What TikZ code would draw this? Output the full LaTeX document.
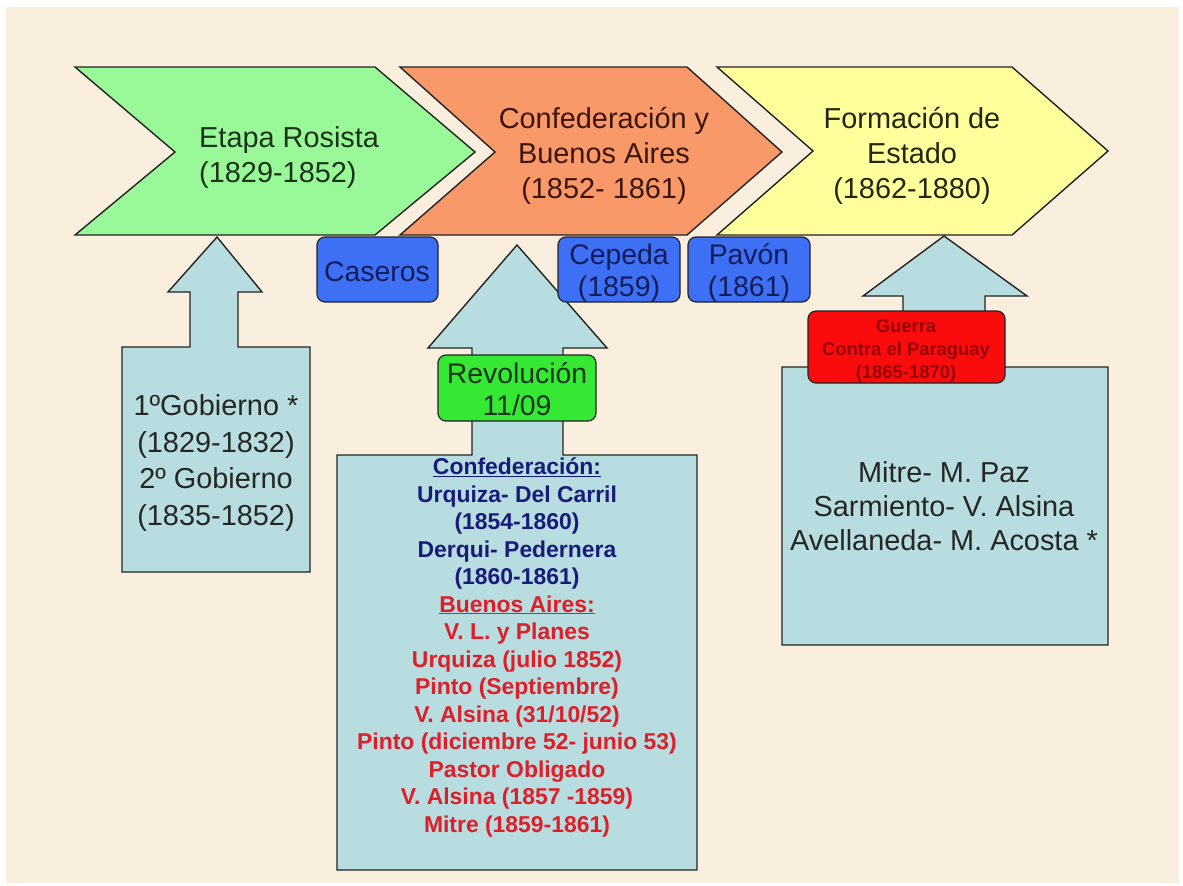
\documentclass[tikz,border=0pt]{standalone}
\usepackage{fontspec}
\setmainfont{Liberation Sans}
\definecolor{bg}{RGB}{250,239,222}
\definecolor{chgreen}{RGB}{153,249,153}
\definecolor{chorange}{RGB}{249,152,104}
\definecolor{chyellow}{RGB}{255,255,155}
\definecolor{calblue}{RGB}{183,221,224}
\definecolor{boxblue}{RGB}{62,112,245}
\definecolor{boxgreen}{RGB}{52,232,52}
\definecolor{boxred}{RGB}{250,12,12}
\definecolor{navy}{RGB}{24,28,120}
\definecolor{listred}{RGB}{222,30,40}
\definecolor{darkred}{RGB}{150,0,0}
\definecolor{outline}{RGB}{35,35,35}
\definecolor{txgreen}{RGB}{28,52,28}
\definecolor{txbrown}{RGB}{60,22,12}
\definecolor{txolive}{RGB}{38,38,20}
\definecolor{txnavy}{RGB}{18,28,90}
\tikzset{
  shapeline/.style={draw=outline, line width=1.4bp, line join=miter},
  bigtext/.style={inner sep=0pt, font=\fontsize{29}{35}\selectfont},
  tagbox/.style={draw=outline, line width=1.2bp, rounded corners=8bp},
  tagtext/.style={inner sep=0pt, font=\fontsize{28.5}{32}\selectfont, text=txnavy, align=center, anchor=base},
}
\begin{document}
\begin{tikzpicture}[x=1bp,y=-1bp]
\useasboundingbox (0,0) rectangle (1183,886);
\fill[white] (0,0) rectangle (1183,886);
\fill[bg] (6,7) rectangle (1179,883);

% chevrons
\filldraw[shapeline, fill=chgreen] (75,67) -- (375,67) -- (475,152) -- (375,235) -- (75,235) -- (175,152) -- cycle;
\filldraw[shapeline, fill=chorange] (400,67) -- (687,67) -- (782,152) -- (687,235) -- (400,235) -- (495,152) -- cycle;
\filldraw[shapeline, fill=chyellow] (717,67) -- (1012,67) -- (1108,151) -- (1012,235) -- (717,235) -- (813,151) -- cycle;

\node[bigtext, text=txgreen, align=left, anchor=base west] (etapa) at (199,182) {Etapa Rosista\\(1829-1852)};
\node[bigtext, text=txbrown, align=center, anchor=base] (confed) at (604,198) {Confederación y\\Buenos Aires\\(1852- 1861)};
\node[bigtext, text=txolive, align=center, anchor=base] (formacion) at (912,198) {Formación de\\Estado\\(1862-1880)};

% callouts
\filldraw[shapeline, fill=calblue] (122,572) -- (122,347) -- (190,347) -- (190,292) -- (168,292) -- (217,237) -- (262,292) -- (238,292) -- (238,347) -- (310,347) -- (310,572) -- cycle;
\filldraw[shapeline, fill=calblue] (337,870) -- (337,455) -- (472,455) -- (472,348) -- (428,348) -- (517,245) -- (607,348) -- (563,348) -- (563,455) -- (697,455) -- (697,870) -- cycle;
\filldraw[shapeline, fill=calblue] (782,645) -- (782,367) -- (903,367) -- (903,296) -- (863,296) -- (944,236) -- (1027,296) -- (985,296) -- (985,367) -- (1108,367) -- (1108,645) -- cycle;

\node[inner sep=0pt, font=\fontsize{29}{36.5}\selectfont, text=black!85, align=center, anchor=base] (gob) at (216,525) {1ºGobierno *\\(1829-1832)\\2º Gobierno\\(1835-1852)};
\node[inner sep=0pt, font=\fontsize{29}{34}\selectfont, text=black!85, align=center, anchor=base] (pres) at (944,550) {Mitre- M. Paz\\Sarmiento- V. Alsina\\Avellaneda- M. Acosta *};
\node[inner sep=0pt, font=\bfseries\fontsize{23}{27.6}\selectfont, align=center, anchor=base] (lista) at (517,832) {%
  \textcolor{navy}{\underline{Confederación:}}\\
  \textcolor{navy}{Urquiza- Del Carril}\\
  \textcolor{navy}{(1854-1860)}\\
  \textcolor{navy}{Derqui- Pedernera}\\
  \textcolor{navy}{(1860-1861)}\\
  \textcolor{listred}{\underline{Buenos Aires:}}\\
  \textcolor{listred}{V. L. y Planes}\\
  \textcolor{listred}{Urquiza (julio 1852)}\\
  \textcolor{listred}{Pinto (Septiembre)}\\
  \textcolor{listred}{V. Alsina (31/10/52)}\\
  \textcolor{listred}{Pinto (diciembre 52- junio 53)}\\
  \textcolor{listred}{Pastor Obligado}\\
  \textcolor{listred}{V. Alsina (1857 -1859)}\\
  \textcolor{listred}{Mitre (1859-1861)}};

% tag boxes
\filldraw[tagbox, fill=boxblue] (317,237) rectangle (438,302);
\filldraw[tagbox, fill=boxblue] (558,237) rectangle (680,302);
\filldraw[tagbox, fill=boxblue] (688,237) rectangle (810,302);
\node[tagtext] (caseros) at (377,281) {Caseros};
\node[tagtext] (cepeda) at (619,296) {Cepeda\\(1859)};
\node[tagtext] (pavon) at (749,296) {Pavón\\(1861)};

\filldraw[tagbox, fill=boxgreen] (438,355) rectangle (596,421);
\node[inner sep=0pt, font=\fontsize{28.5}{32}\selectfont, text=txgreen, align=center, anchor=base] (revol) at (517,415) {Revolución\\11/09};

\filldraw[tagbox, fill=boxred] (808,311) rectangle (1005,383);
\node[inner sep=0pt, font=\bfseries\fontsize{18.5}{23}\selectfont, text=darkred, align=center, anchor=base] (guerra) at (906,378) {Guerra\\Contra el Paraguay\\(1865-1870)};
\end{tikzpicture}
\end{document}
